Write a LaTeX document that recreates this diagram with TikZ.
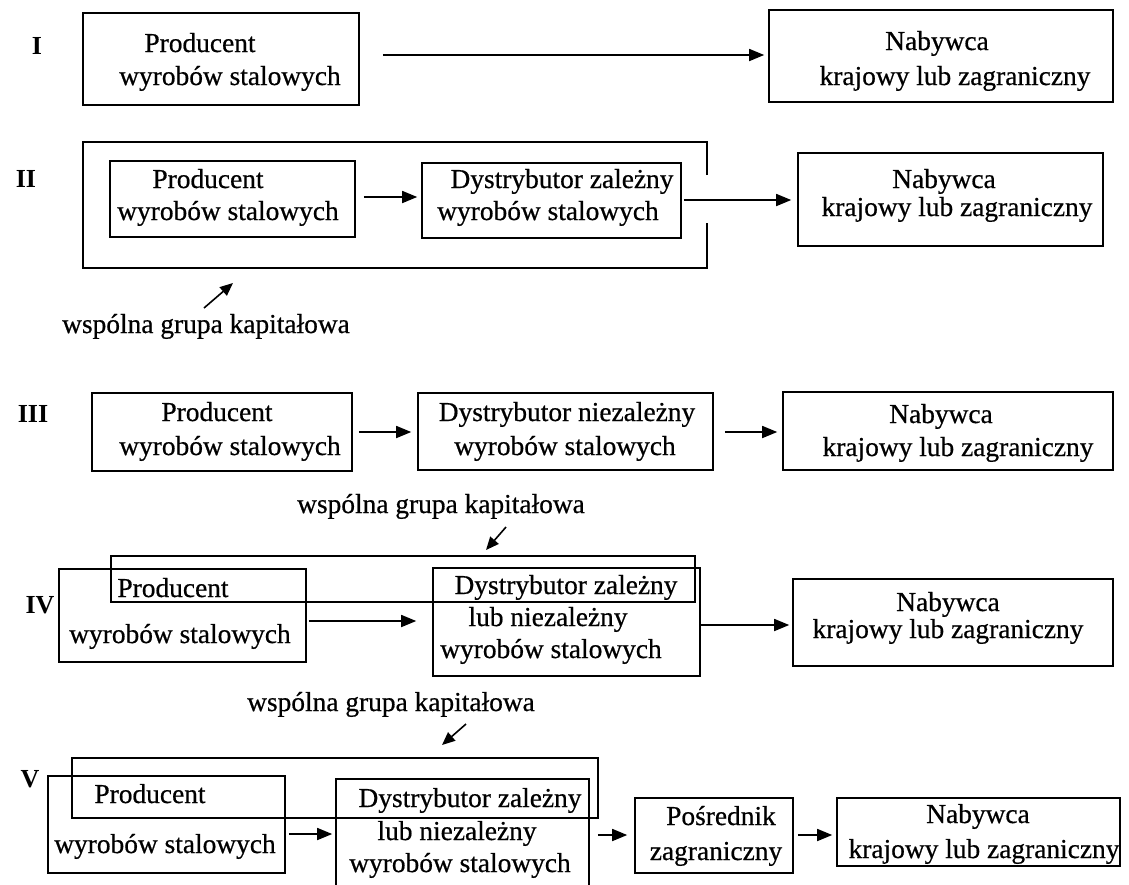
\documentclass[tikz,border=0pt]{standalone}
\usepackage{fontspec}
\setmainfont{Liberation Serif}
\newfontfamily\diagfont{Liberation Serif}[FakeBold=0.6]
\usetikzlibrary{arrows.meta}
\begin{document}
\begin{tikzpicture}[x=1pt,y=-1pt,
  box/.style={draw, line width=1.6pt, inner sep=0pt},
  frame/.style={inner sep=0pt},
  txt/.style={font=\diagfont\fontsize{27.4}{32}\selectfont, inner sep=0pt, anchor=base},
  num/.style={font=\bfseries\fontsize{26}{30}\selectfont, inner sep=0pt, anchor=base},
  arr/.style={line width=1.6pt, -{Triangle[length=15pt,width=12pt]}},
  sarr/.style={line width=1.6pt, -{Triangle[length=13pt,width=11pt]}},
  edge/.style={line width=1.6pt}]
\useasboundingbox (0,0) rectangle (1129,884);
\clip (0,0) rectangle (1129,884);

% ---------- I ----------
\node[num] (l1) at (37,54) {I};
\node[box, minimum width=276pt, minimum height=92pt] (p1) at (221,59) {};
\node[txt] at (200,52) {Producent};
\node[txt] at (230,85) {wyrobów stalowych};
\node[box, minimum width=344pt, minimum height=92pt] (n1) at (941,56) {};
\node[txt] at (937,50) {Nabywca};
\node[txt] at (955,85) {krajowy lub zagraniczny};
\draw[arr, shorten <=23pt, shorten >=4pt] (p1.east |- 0,55) -- (n1.west |- 0,55);

% ---------- II ----------
\node[num] (l2) at (26,187) {II};
\node[frame, minimum width=624pt, minimum height=126pt] (g2) at (395,205) {};
\draw[edge] (g2.east |- 0,175) -- (g2.north east) -- (g2.north west)
  -- (g2.south west) -- (g2.south east) -- (g2.east |- 0,223);
\node[box, minimum width=245pt, minimum height=76pt] (p2) at (232.5,199) {};
\node[txt] at (208,188) {Producent};
\node[txt] at (228,220) {wyrobów stalowych};
\node[box, minimum width=259pt, minimum height=75pt] (d2) at (551.5,200.5) {};
\node[txt] at (562,188) {Dystrybutor zależny};
\node[txt] at (548,220) {wyrobów stalowych};
\node[box, minimum width=305pt, minimum height=93pt] (n2) at (950.5,199.5) {};
\node[txt] at (944,188) {Nabywca};
\node[txt] at (957,216) {krajowy lub zagraniczny};
\draw[arr, shorten <=8pt, shorten >=4pt] (p2.east |- 0,197) -- (d2.west |- 0,197);
\draw[arr, shorten <=2pt, shorten >=6pt] (d2.east |- 0,200) -- (n2.west |- 0,200);
\node[txt] (w2) at (206,333) {wspólna grupa kapitałowa};
\coordinate (k2a) at (204,308);
\coordinate (k2b) at (233,283);
\draw[sarr] (k2a) -- (k2b);

% ---------- III ----------
\node[num] (l3) at (33,422) {III};
\node[box, minimum width=260pt, minimum height=78pt] (p3) at (222,432) {};
\node[txt] at (217,421) {Producent};
\node[txt] at (230,455) {wyrobów stalowych};
\node[box, minimum width=295pt, minimum height=77pt] (d3) at (565.5,431.5) {};
\node[txt] at (567,421) {Dystrybutor niezależny};
\node[txt] at (565,455) {wyrobów stalowych};
\node[box, minimum width=330pt, minimum height=78pt] (n3) at (948,431) {};
\node[txt] at (941,423) {Nabywca};
\node[txt] at (958,456) {krajowy lub zagraniczny};
\draw[arr, shorten <=6pt, shorten >=6pt] (p3.east |- 0,432) -- (d3.west |- 0,432);
\draw[arr, shorten <=11pt, shorten >=5pt] (d3.east |- 0,432) -- (n3.west |- 0,432);

% ---------- IV ----------
\node[txt] (w4) at (441,513) {wspólna grupa kapitałowa};
\coordinate (k4a) at (506,527);
\coordinate (k4b) at (486,550);
\draw[sarr] (k4a) -- (k4b);
\node[num] (l4) at (40,613) {IV};
\node[box, minimum width=584pt, minimum height=46pt] (g4) at (403,579) {};
\node[box, minimum width=247pt, minimum height=93pt] (p4) at (182.5,615.5) {};
\node[txt] at (173,597) {Producent};
\node[txt] at (180,643) {wyrobów stalowych};
\node[box, minimum width=267pt, minimum height=108pt] (d4) at (566.5,622) {};
\node[txt] at (566,594) {Dystrybutor zależny};
\node[txt] at (548,626) {lub niezależny};
\node[txt] at (551,658) {wyrobów stalowych};
\node[box, minimum width=320pt, minimum height=87pt] (n4) at (953,622.5) {};
\node[txt] at (948,611) {Nabywca};
\node[txt] at (948,638) {krajowy lub zagraniczny};
\draw[arr, shorten <=2pt, shorten >=16pt] (p4.east |- 0,621) -- (d4.west |- 0,621);
\draw[arr, shorten >=3pt] (d4.east |- 0,625) -- (n4.west |- 0,625);

% ---------- V ----------
\node[txt] (w5) at (391,711) {wspólna grupa kapitałowa};
\coordinate (k5a) at (466,724);
\coordinate (k5b) at (442,745);
\draw[sarr] (k5a) -- (k5b);
\node[num] (l5) at (30,787) {V};
\node[box, minimum width=526pt, minimum height=60pt] (g5) at (335,788) {};
\node[box, minimum width=237pt, minimum height=97pt] (p5) at (166.5,824.5) {};
\node[txt] at (150,803) {Producent};
\node[txt] at (165,853) {wyrobów stalowych};
\node[box, minimum width=253pt, minimum height=142pt] (d5) at (462.5,850) {};
\node[txt] at (470,807) {Dystrybutor zależny};
\node[txt] at (457,840) {lub niezależny};
\node[txt] at (460,872) {wyrobów stalowych};
\node[box, minimum width=158pt, minimum height=75pt] (pos) at (714,835.5) {};
\node[txt] at (721,825) {Pośrednik};
\node[txt] at (716,860) {zagraniczny};
\node[box, minimum width=283pt, minimum height=68pt] (n5) at (978.5,832) {};
\node[txt] at (978,823) {Nabywca};
\node[txt] at (984,858) {krajowy lub zagraniczny};
\draw[arr, shorten <=3pt, shorten >=3pt] (p5.east |- 0,834) -- (d5.west |- 0,834);
\draw[arr, shorten <=8pt, shorten >=7pt] (d5.east |- 0,835) -- (pos.west |- 0,835);
\draw[arr, shorten <=4pt, shorten >=4pt] (pos.east |- 0,835) -- (n5.west |- 0,835);
\end{tikzpicture}
\end{document}
